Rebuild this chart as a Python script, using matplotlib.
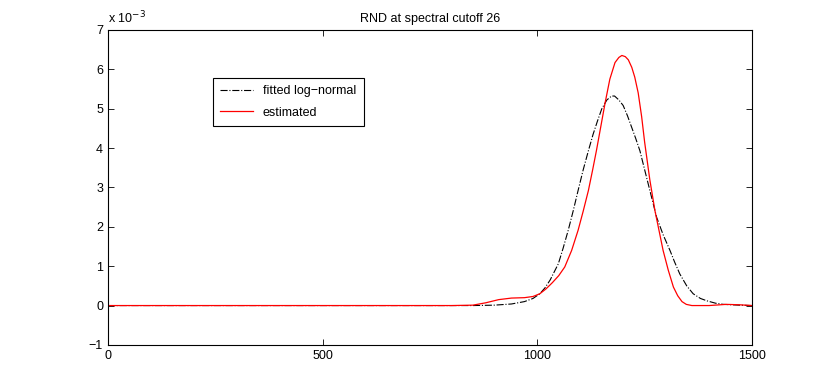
import matplotlib.pyplot as plt

plt.rcParams['font.family'] = ['Liberation Sans', 'DejaVu Sans']
plt.rcParams['font.size'] = 9

# values, y in units of 1e-3
x_est = [0, 800, 850, 880, 910, 940, 970, 990, 1006, 1020, 1035, 1050, 1064, 1080,
         1095, 1107, 1119, 1129, 1138, 1148, 1158, 1169, 1181, 1190, 1197, 1205,
         1212, 1220, 1227, 1235, 1243, 1250, 1262, 1274, 1284, 1293, 1305, 1317,
         1327, 1337, 1347, 1360, 1400, 1440, 1470, 1500]
y_est = [0, 0, 0.01, 0.07, 0.15, 0.19, 0.20, 0.23, 0.30, 0.42, 0.58, 0.76, 0.98, 1.40,
         1.91, 2.40, 2.92, 3.45, 3.95, 4.55, 5.15, 5.75, 6.17, 6.30, 6.35, 6.32,
         6.24, 6.05, 5.80, 5.40, 4.80, 4.15, 3.20, 2.41, 1.88, 1.40, 0.90, 0.47,
         0.25, 0.10, 0.03, 0.0, 0.0, 0.03, 0.02, 0.0]

x_fit = [0, 850, 900, 940, 970, 990, 1006, 1018, 1030, 1049, 1060, 1072, 1084, 1095,
         1107, 1119, 1130, 1140, 1150, 1162, 1173, 1180, 1190, 1200, 1210, 1219,
         1229, 1239, 1250, 1262, 1278, 1293, 1309, 1320, 1332, 1348, 1363, 1380,
         1395, 1415, 1433, 1470, 1500]
y_fit = [0, 0, 0.01, 0.04, 0.10, 0.18, 0.30, 0.45, 0.65, 1.06, 1.45, 1.91, 2.42, 2.92,
         3.45, 3.93, 4.35, 4.68, 4.99, 5.22, 5.32, 5.32, 5.22, 5.08, 4.82, 4.55,
         4.25, 3.93, 3.45, 2.93, 2.24, 1.80, 1.40, 1.10, 0.80, 0.50, 0.30, 0.18,
         0.12, 0.06, 0.03, 0.01, 0.0]

fig = plt.figure(figsize=(8.3, 3.88), dpi=100)
ax = fig.add_axes([0.130, 0.111, 0.776, 0.812])

ax.plot(x_fit, y_fit, color='black', linestyle='-.', linewidth=0.8, label='fitted log\u2212normal')
ax.plot(x_est, y_est, color='red', linewidth=0.9, label='estimated')

ax.set_xlim(0, 1500)
ax.set_ylim(-1, 7)
ax.set_xticks([0, 500, 1000, 1500])
ax.set_yticks(range(-1, 8))
ax.set_yticklabels(['\u22121'] + [str(i) for i in range(0, 8)])
ax.tick_params(direction='in', top=True, right=True, length=4, width=0.6)
for s in ax.spines.values():
    s.set_linewidth(0.8)

ax.set_title('RND at spectral cutoff 26', fontsize=9, pad=6)
ax.text(0.0, 1.01, 'x 10$^{-3}$', transform=ax.transAxes, fontsize=9, va='bottom', ha='left')

leg = ax.legend(loc='upper left', bbox_to_anchor=(0.163, 0.848), fancybox=False,
                edgecolor='black', framealpha=1, handlelength=2.6, borderaxespad=0,
                borderpad=0.6, labelspacing=0.75)
leg.get_frame().set_linewidth(0.8)

fig.savefig('out.png', dpi=100)
